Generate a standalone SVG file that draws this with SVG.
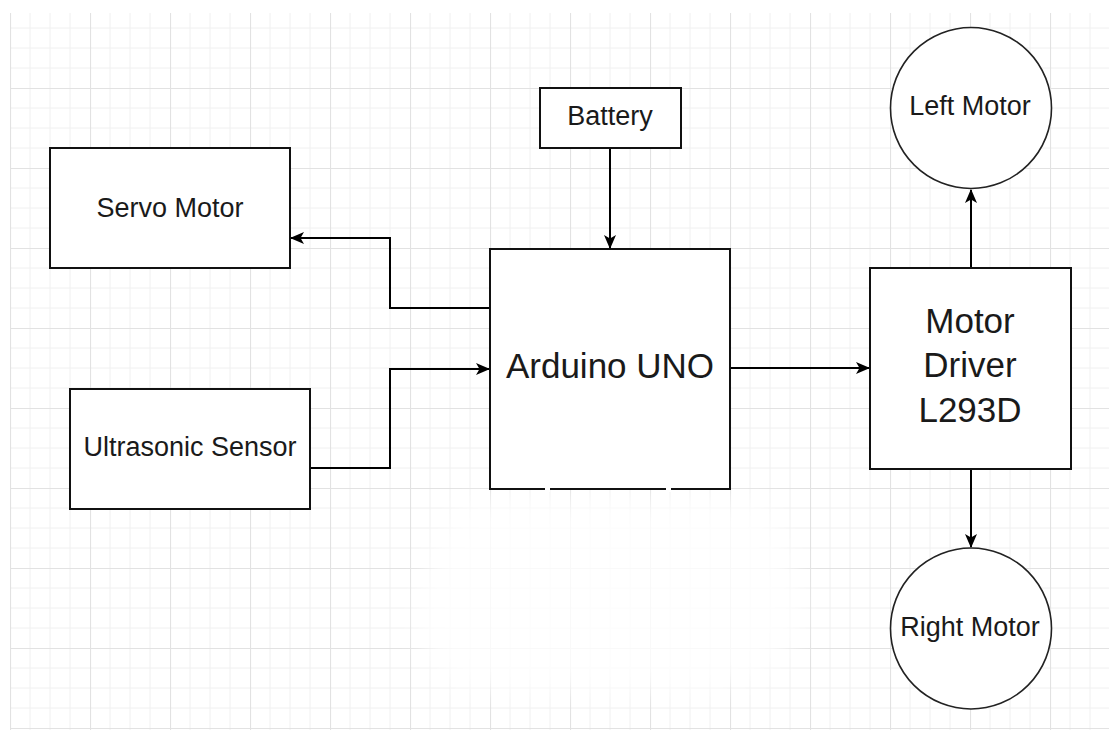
<svg xmlns="http://www.w3.org/2000/svg" width="1109" height="731" viewBox="0 0 1109 731">
  <defs>
    <pattern id="grid" patternUnits="userSpaceOnUse" x="10" y="8" width="80" height="80">
      <path d="M20 0V80M40 0V80M60 0V80M0 20H80M0 40H80M0 60H80" stroke="#f0f0f0" stroke-width="1" fill="none"/>
      <path d="M0.5 0V80M0 0.5H80" stroke="#e2e2e2" stroke-width="1.2" fill="none"/>
    </pattern>
    <marker id="arr" viewBox="0 0 14 12" refX="13" refY="6" markerWidth="14" markerHeight="12" markerUnits="userSpaceOnUse" orient="auto">
      <path d="M0 0L14 6L0 12L3.5 6Z" fill="#000"/>
    </marker>
    <filter id="blur" x="-20%" y="-20%" width="140%" height="140%">
      <feGaussianBlur stdDeviation="12"/>
    </filter>
  </defs>
  <style>
    .box { fill: #fff; stroke: #111; stroke-width: 2; }
    .circ { fill: #fff; stroke: #222; stroke-width: 1.6; }
    .lbl { font-family: "Liberation Sans", Arial, sans-serif; font-size: 27px; fill: #1a1a1a; text-anchor: middle; }
    .big { font-size: 35px; }
    .edge { fill: none; stroke: #000; stroke-width: 2; marker-end: url(#arr); }
  </style>
  <rect width="1109" height="731" fill="#fff"/>
  <rect x="10" y="13" width="1099" height="717" fill="url(#grid)"/>
  <path d="M470 500 L760 500 Q800 560 800 620 Q790 680 700 690 L480 690 Q415 670 420 610 Q430 540 470 500 Z" fill="#fff" fill-opacity="0.8" filter="url(#blur)"/>

  <g id="connectors">
    <path class="edge" d="M610 148 V248"/>
    <path class="edge" d="M490 308 H390 V238 H291"/>
    <path class="edge" d="M310 468 H390 V369 H489"/>
    <path class="edge" d="M730 368 H869"/>
    <path class="edge" d="M971 268 V190"/>
    <path class="edge" d="M971 469 V547"/>
  </g>

  <g id="battery">
    <rect class="box" x="540" y="88" width="141" height="60"/>
    <text class="lbl" x="610" y="125">Battery</text>
  </g>
  <g id="servo-motor">
    <rect class="box" x="50" y="148" width="240" height="120"/>
    <text class="lbl" x="170" y="217">Servo Motor</text>
  </g>
  <g id="ultrasonic-sensor">
    <rect class="box" x="70" y="389" width="240" height="120"/>
    <text class="lbl" x="190" y="456">Ultrasonic Sensor</text>
  </g>
  <g id="arduino-uno">
    <rect class="box" x="490" y="249" width="240" height="240"/>
    <rect x="545" y="486" width="5" height="6" fill="#fff"/>
    <rect x="666" y="486" width="5" height="6" fill="#fff"/>
    <text class="lbl big" x="610" y="378">Arduino UNO</text>
  </g>
  <g id="motor-driver">
    <rect class="box" x="870" y="268" width="201" height="201"/>
    <text class="lbl big" x="970" y="333">Motor</text>
    <text class="lbl big" x="970" y="377">Driver</text>
    <text class="lbl big" x="970" y="422">L293D</text>
  </g>
  <g id="left-motor">
    <circle class="circ" cx="971" cy="108" r="80.5"/>
    <text class="lbl" x="970" y="115">Left Motor</text>
  </g>
  <g id="right-motor">
    <circle class="circ" cx="971" cy="628.5" r="80.5"/>
    <text class="lbl" x="970" y="636">Right Motor</text>
  </g>
</svg>
